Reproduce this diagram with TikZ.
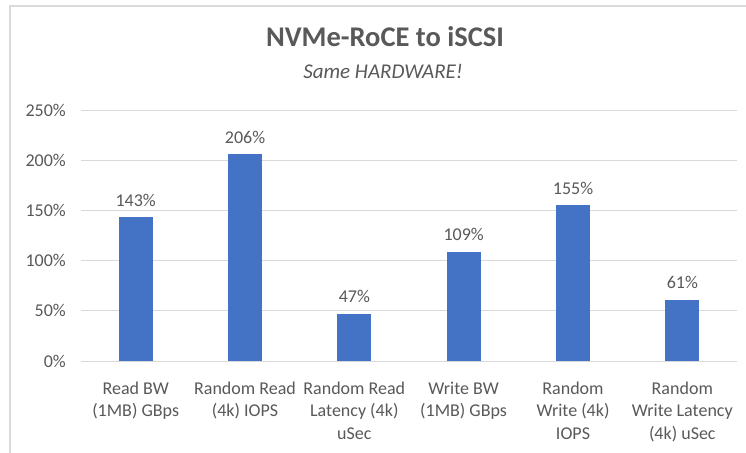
\documentclass[tikz,border=0pt]{standalone}
\usepackage{fontspec}
\setmainfont{Carlito}
\definecolor{txt}{HTML}{595959}
\definecolor{gridc}{HTML}{D9D9D9}
\definecolor{barc}{HTML}{4472C4}
\definecolor{framec}{HTML}{D9D9D9}
\begin{document}
\begin{tikzpicture}[x=1pt,y=-1pt,
  axlab/.style={text=txt,font=\fontsize{18}{22.7}\selectfont,inner sep=0pt},
  catlab/.style={axlab,align=center,anchor=base},
  vallab/.style={axlab,anchor=base},
  gridline/.style={draw=gridc,line width=1pt}]
\useasboundingbox (0,0) rectangle (746,452);
\clip (0,0) rectangle (746,452);
\fill[white] (0,0) rectangle (746,452);
\draw[framec,line width=1.5pt] (10,470) -- (10,6) -- (760,6);
% gridlines and axis labels
\foreach \v/\n in {0/g0,50/g50,100/g100,150/g150,200/g200,250/g250}{
  \pgfmathsetmacro{\yy}{361-\v*1.004}
  \draw[gridline] (81,\yy) -- (737,\yy);
  \node[axlab,anchor=east] (\n) at (66,\yy) {\v\%};
}
% bars
\foreach \i/\v in {1/143,2/206,3/47,4/109,5/155,6/61}{
  \pgfmathsetmacro{\xx}{81+109.33*(\i-0.5)}
  \pgfmathsetmacro{\yy}{361-\v*1.004}
  \fill[barc] (\xx-17,361) rectangle (\xx+17,\yy);
  \node[vallab] (v\i) at (\xx,\yy-11) {\v\%};
}
% category labels (anchor base = baseline of last line)
\node[catlab] (c1) at (135.7,416.7) {Read BW\\(1MB) GBps};
\node[catlab] (c2) at (245.0,416.7) {Random Read\\(4k) IOPS};
\node[catlab] (c3) at (354.3,439.4) {Random Read\\Latency (4k)\\uSec};
\node[catlab] (c4) at (463.6,416.7) {Write BW\\(1MB) GBps};
\node[catlab] (c5) at (573.0,439.4) {Random\\Write (4k)\\IOPS};
\node[catlab] (c6) at (682.3,439.4) {Random\\Write Latency\\(4k) uSec};
% title
\node[text=txt,font=\fontsize{28.5}{34}\selectfont\bfseries,anchor=base,inner sep=0pt] (title) at (385,46.5) {NVMe-RoCE to iSCSI};
\node[text=txt,font=\fontsize{21}{25}\selectfont\itshape,anchor=base,inner sep=0pt] (sub) at (383,78) {Same HARDWARE!};
\end{tikzpicture}
\end{document}
